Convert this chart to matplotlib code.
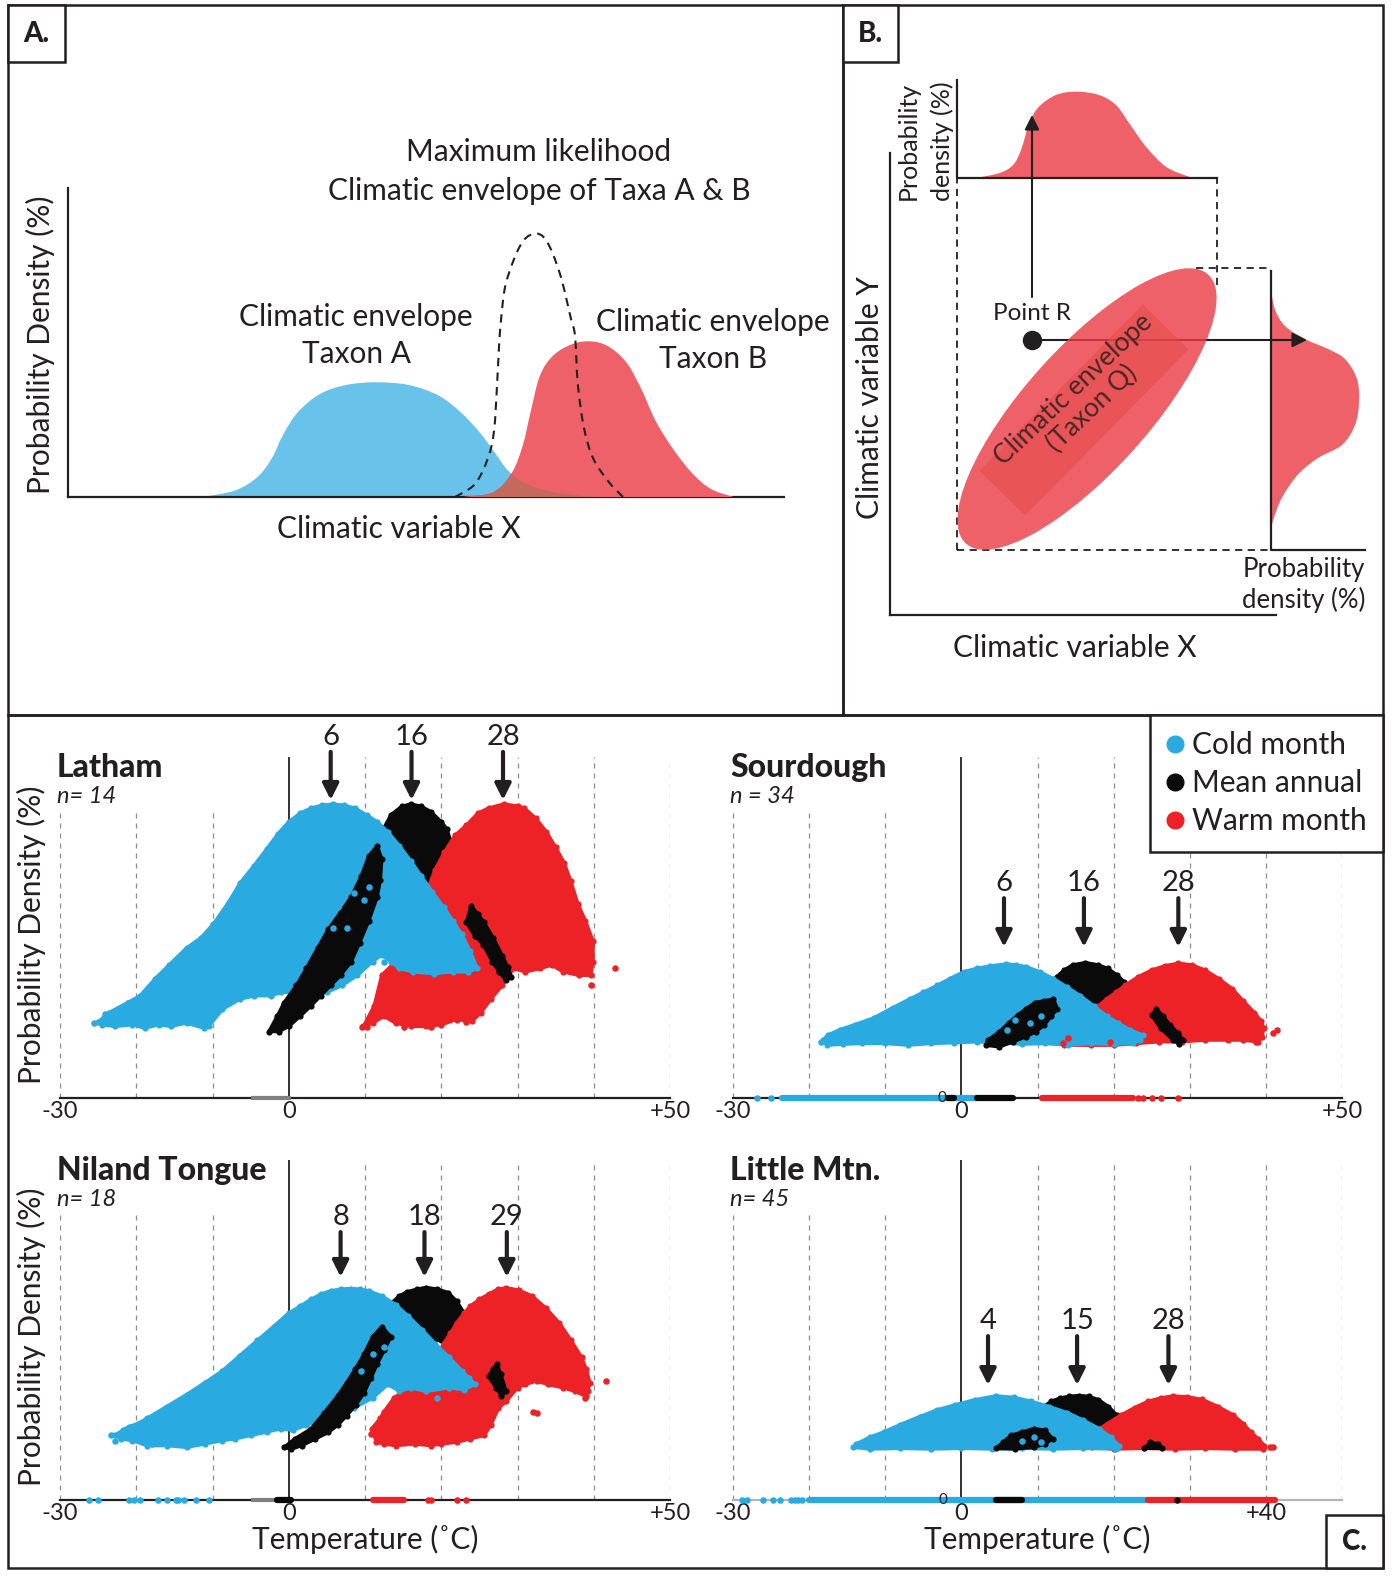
import matplotlib
matplotlib.use('Agg')
import matplotlib.pyplot as plt
from matplotlib.patches import Rectangle, Ellipse, PathPatch
from matplotlib.path import Path
from matplotlib.lines import Line2D

plt.rcParams['font.family'] = ['Lato', 'DejaVu Sans']

W, H = 1398, 1579
INK = '#231f20'
COLD = '#29abe2'
MEAN = '#0a0a0a'
WARM = '#ec2227'
A_BLUE = '#69c2ea'
A_RED = '#ef6168'
A_MIX = '#c4695b'
B_RED = '#ec3a44'

# ---------------- Panel A (schematic, axis units) ----------------
taxon_a_x = [134, 167, 189.5, 204, 215, 230, 252, 278, 307.6, 340.8, 370.3, 392.4, 411, 425.7, 440.4, 459, 484.7, 518, 536]
taxon_a_y = [0, 6.5, 20, 39, 62, 85, 103, 112, 114.7, 112, 101.6, 85, 65.5, 46, 26, 13, 5, 0.6, 0]
taxon_b_x = [396, 425.6, 444, 455, 462.6, 471.8, 484.7, 503, 521.6, 540, 558.5, 573.3, 588, 606.5, 625, 643, 665.5]
taxon_b_y = [0, 5, 24.5, 52.4, 85, 121, 141, 152.4, 155.7, 150.8, 134.4, 108, 75.4, 46, 23, 8, 0]
ml_x = [387, 407, 420, 426, 429, 431, 433, 438, 452, 465, 478, 492, 503, 507, 510, 516, 525, 540, 555]
ml_y = [0, 13, 39, 66, 111, 150, 177, 214, 251, 263, 257, 223, 178, 161, 111, 69, 39, 16, 0]

# ---------------- Panel B (schematic, axis units) ----------------
marg_x_x = [86, 109.5, 123, 131, 139.4, 149, 166, 186, 209, 226, 239, 256, 276, 299, 309]
marg_x_y = [437, 442, 450, 465, 492, 508.3, 520, 523.3, 520, 510, 492, 468.3, 448.3, 438.3, 437]
marg_y_x = [381, 385, 395, 415, 438, 455, 467, 469, 465, 452, 428, 408, 392, 383, 381]
marg_y_y = [325, 305.5, 289, 276, 266, 256, 236, 213, 190, 170, 157, 140.5, 117.4, 94.3, 81]
point_r = (142, 275)

# ---------------- Panel C (temperature degC, relative density) ----------------
latham_mean_head = [(11.5, 0.70), (12.2, 0.78), (13.4, 0.83), (14.8, 0.855), (16, 0.862), (17.4, 0.855),
                    (18.6, 0.84), (20.0, 0.81), (20.7, 0.79), (21.3, 0.75), (21.5, 0.70), (21.0, 0.64),
                    (19.5, 0.62), (17, 0.62), (14, 0.62), (12, 0.63)]
latham_warm = [(18.0, 0.60), (19.2, 0.67), (20.4, 0.72), (21.8, 0.77), (23.3, 0.80), (24.8, 0.835), (26.2, 0.85),
               (28.2, 0.862), (30.0, 0.856), (30.9, 0.85), (32.4, 0.82), (33.8, 0.78), (35.0, 0.735), (36.1, 0.69),
               (37.0, 0.635), (37.9, 0.57), (38.9, 0.52), (39.9, 0.46), (39.9, 0.40), (39.6, 0.36), (38, 0.36),
               (36, 0.37), (34.5, 0.39), (33, 0.38), (31, 0.37), (29.5, 0.38), (28, 0.33), (26.5, 0.29),
               (25.2, 0.25), (24, 0.225), (22, 0.23), (20, 0.215), (18, 0.21), (16, 0.21), (14, 0.22),
               (12.5, 0.24), (11, 0.22), (9.8, 0.21), (11.2, 0.27), (12.2, 0.36), (14, 0.40), (16, 0.45), (17.2, 0.52)]
latham_mean_tail = [(23.3, 0.515), (23.9, 0.563), (24.8, 0.54), (25.6, 0.515), (26.8, 0.47), (28, 0.417),
                    (28.7, 0.385), (29.2, 0.355), (28.5, 0.345), (27.6, 0.37), (26.7, 0.40), (25.5, 0.45), (24.4, 0.476)]
latham_cold = [(-25.0, 0.223), (-23.6, 0.25), (-21.1, 0.28), (-19.5, 0.30), (-17.5, 0.35), (-15.7, 0.39),
               (-13.4, 0.44), (-11.5, 0.47), (-9.9, 0.51), (-8.0, 0.57), (-6.4, 0.63), (-4.6, 0.68), (-2.9, 0.73),
               (-1.4, 0.775), (0.0, 0.81), (1.5, 0.835), (2.9, 0.85), (4.3, 0.858), (5.8, 0.862), (7.3, 0.858),
               (8.7, 0.85), (10.2, 0.83), (11.6, 0.81), (13.0, 0.78), (14.5, 0.74), (16.0, 0.695), (17.4, 0.65),
               (18.8, 0.605), (20.3, 0.56), (21.5, 0.52), (22.7, 0.48), (23.8, 0.43), (24.7, 0.38), (23.5, 0.37),
               (21.5, 0.37), (19, 0.365), (16.3, 0.37), (14.5, 0.38), (13.4, 0.40), (12.2, 0.42), (11, 0.40),
               (9, 0.36), (7, 0.33), (5, 0.31), (3, 0.30), (1, 0.31), (-1, 0.31), (-2.3, 0.30), (-4.5, 0.30),
               (-6.4, 0.29), (-8.7, 0.26), (-10.5, 0.21), (-11.1, 0.205), (-13.4, 0.22), (-15.5, 0.21),
               (-17, 0.215), (-18.9, 0.205), (-20.5, 0.215), (-22.8, 0.21), (-24.5, 0.215)]
latham_mean_band = [(-2.6, 0.195), (-1.5, 0.24), (-0.6, 0.28), (1.0, 0.33), (2.3, 0.38), (3.8, 0.44), (5.2, 0.495),
                    (6.8, 0.545), (8.2, 0.59), (9.5, 0.65), (10.5, 0.71), (11.6, 0.74), (12.2, 0.70), (12.0, 0.64),
                    (11.6, 0.59), (10.5, 0.52), (9.3, 0.456), (8.2, 0.40), (6.8, 0.36), (5.5, 0.33), (4.2, 0.30),
                    (2.9, 0.27), (1.5, 0.24), (0.0, 0.21), (-1.3, 0.195)]
latham_cold_dots = [(-25.5, 0.22), (-24.1, 0.245), (-22.8, 0.214), (-21.1, 0.28), (-19.5, 0.233), (-18.9, 0.21),
                    (-17.2, 0.354), (-16.0, 0.31), (-13.4, 0.223), (-11.1, 0.209), (-10.5, 0.262), (-8.7, 0.28),
                    (-6.4, 0.30), (-2.3, 0.31), (5.8, 0.50), (6.4, 0.56), (7.6, 0.50), (8.5, 0.60), (9.9, 0.58),
                    (10.5, 0.62), (12.5, 0.40), (14.5, 0.43)]
latham_warm_dots = [(9.6, 0.209), (10.2, 0.209), (15.1, 0.209), (18.6, 0.209), (23.3, 0.223), (25.0, 0.252),
                    (21.5, 0.262), (11.6, 0.238), (42.8, 0.38), (39.6, 0.33)]

sourdough_mean_head = [(11.5, 0.33), (12.5, 0.355), (13.5, 0.375), (14.6, 0.39), (16.3, 0.397), (18.0, 0.39),
                       (19.2, 0.38), (20.5, 0.36), (21.4, 0.34), (22.0, 0.32), (21.6, 0.29), (19.0, 0.28),
                       (15.0, 0.28), (12.0, 0.30)]
sourdough_warm = [(13.5, 0.155), (14.3, 0.19), (15.5, 0.225), (17.0, 0.25), (18.0, 0.27), (19.1, 0.29), (20.3, 0.31),
                  (21.5, 0.33), (23.2, 0.355), (25.0, 0.375), (26.8, 0.388), (28.5, 0.395), (30.3, 0.39),
                  (32.0, 0.375), (33.8, 0.35), (35.6, 0.32), (37.0, 0.285), (38.5, 0.25), (39.4, 0.225),
                  (39.7, 0.205), (39.5, 0.18), (38.9, 0.165), (37.0, 0.17), (35.0, 0.17), (32.0, 0.17),
                  (29.0, 0.165), (26.0, 0.165), (23.0, 0.16), (20.0, 0.155), (17.0, 0.155)]
sourdough_mean_tail = [(25.0, 0.243), (25.6, 0.262), (26.5, 0.24), (27.4, 0.214), (28.5, 0.19), (29.1, 0.17),
                       (28.6, 0.158), (27.8, 0.17), (26.2, 0.204)]
sourdough_cold = [(-18.2, 0.17), (-17.5, 0.185), (-16.0, 0.20), (-14.0, 0.215), (-11.5, 0.235), (-9.0, 0.265),
                  (-6.8, 0.29), (-5.0, 0.31), (-3.2, 0.33), (-1.5, 0.35), (0.3, 0.37), (2.0, 0.38), (3.8, 0.387),
                  (5.9, 0.393), (7.2, 0.39), (8.5, 0.385), (10.3, 0.37), (12.1, 0.35), (13.9, 0.325), (15.6, 0.30),
                  (17.4, 0.27), (19.1, 0.24), (20.6, 0.22), (22.1, 0.20), (23.8, 0.185), (23.5, 0.17), (22.6, 0.16),
                  (20.0, 0.158), (17.0, 0.16), (14.0, 0.155), (11.0, 0.16), (8.0, 0.158), (5.0, 0.162),
                  (2.0, 0.165), (-1.0, 0.162), (-4.0, 0.16), (-7.0, 0.155), (-10.0, 0.16), (-13.0, 0.16),
                  (-15.5, 0.158), (-17.6, 0.155)]
sourdough_mean_band = [(3.2, 0.155), (5.0, 0.15), (6.8, 0.165), (8.5, 0.18), (9.8, 0.195), (10.9, 0.214),
                       (11.8, 0.24), (12.6, 0.262), (12.1, 0.29), (10.9, 0.285), (9.7, 0.28), (8.5, 0.262),
                       (7.4, 0.243), (6.2, 0.22), (5.0, 0.194), (3.5, 0.17)]
sourdough_cold_dots = [(6.0, 0.2), (7.0, 0.23), (9.0, 0.22), (10.4, 0.24), (-18.5, 0.165), (-17.3, 0.17),
                       (12.8, 0.19), (14.9, 0.17), (19.6, 0.17)]
sourdough_warm_dots = [(41.5, 0.20), (40.9, 0.19), (38.7, 0.165), (13.3, 0.16), (14.0, 0.175), (19.5, 0.165)]

niland_mean_head = [(11.5, 0.50), (12.5, 0.55), (13.5, 0.58), (14.5, 0.60), (15.5, 0.612), (16.8, 0.62),
                    (18.0, 0.625), (19.5, 0.62), (20.9, 0.61), (22.0, 0.585), (23.0, 0.55), (22.6, 0.50),
                    (20.0, 0.47), (15.0, 0.47), (12.5, 0.47)]
niland_warm = [(10.9, 0.21), (12.0, 0.24), (12.5, 0.26), (13.8, 0.30), (15.0, 0.32), (16.5, 0.34), (17.5, 0.36),
               (19.0, 0.40), (20.3, 0.46), (21.2, 0.49), (22.0, 0.52), (23.0, 0.55), (23.8, 0.57), (25.0, 0.59),
               (26.2, 0.605), (27.4, 0.62), (28.5, 0.624), (30.2, 0.617), (31.9, 0.60), (33.7, 0.565),
               (35.5, 0.52), (37.0, 0.47), (38.4, 0.42), (39.0, 0.385), (39.5, 0.345), (39.2, 0.32), (39.0, 0.305),
               (37.5, 0.32), (36.0, 0.33), (34.0, 0.34), (32.5, 0.35), (31.0, 0.34), (30.0, 0.33), (28.5, 0.29),
               (27.5, 0.27), (26.5, 0.22), (25.6, 0.19), (23.8, 0.18), (22.0, 0.17), (20.0, 0.165), (18.6, 0.16),
               (16.5, 0.165), (14.0, 0.16), (12.5, 0.165), (11.5, 0.17)]
niland_mean_tail = [(26.2, 0.364), (26.8, 0.385), (27.3, 0.40), (27.8, 0.37), (28.5, 0.32), (27.9, 0.306),
                    (27.2, 0.33)]
niland_cold = [(-22.8, 0.19), (-21.8, 0.205), (-21.0, 0.215), (-19.8, 0.225), (-18.6, 0.24), (-16.0, 0.275),
               (-13.4, 0.31), (-11.0, 0.345), (-8.7, 0.38), (-6.4, 0.425), (-4.1, 0.47), (-2.0, 0.51), (0.0, 0.55),
               (1.5, 0.57), (2.9, 0.59), (4.2, 0.605), (5.5, 0.615), (6.8, 0.62), (8.1, 0.622), (9.4, 0.62),
               (10.5, 0.615), (12.2, 0.60), (14.0, 0.575), (15.7, 0.54), (17.5, 0.50), (19.2, 0.46), (21.0, 0.42),
               (22.7, 0.38), (23.6, 0.36), (24.4, 0.34), (23.0, 0.325), (21.0, 0.33), (18.0, 0.32), (16.0, 0.33),
               (14.5, 0.32), (13.0, 0.34), (11.0, 0.30), (8.5, 0.27), (6.0, 0.25), (4.0, 0.235), (2.3, 0.22),
               (0.5, 0.205), (-1.0, 0.21), (-2.9, 0.20), (-5.0, 0.19), (-7.0, 0.18), (-8.7, 0.175), (-11.0, 0.165),
               (-13.4, 0.155), (-16.0, 0.16), (-18.6, 0.16), (-20.5, 0.175), (-22.0, 0.18)]
niland_mean_band = [(-0.6, 0.155), (0.8, 0.18), (2.9, 0.209), (4.6, 0.255), (6.4, 0.306), (7.6, 0.345),
                    (8.7, 0.384), (9.9, 0.43), (11.0, 0.48), (12.2, 0.51), (13.4, 0.48), (12.5, 0.44), (11.6, 0.40),
                    (10.8, 0.36), (9.9, 0.316), (8.8, 0.28), (7.6, 0.248), (6.4, 0.22), (5.2, 0.199), (3.5, 0.18),
                    (1.7, 0.16), (0.3, 0.15)]
niland_cold_dots = [(-23.3, 0.19), (-22.8, 0.175), (-21.3, 0.185), (-20.2, 0.195), (-18.0, 0.165), (-14.8, 0.17),
                    (8.0, 0.42), (9.5, 0.38), (11.0, 0.43), (12.5, 0.45), (11.6, 0.36), (19.5, 0.30)]
niland_warm_dots = [(41.6, 0.35), (32.0, 0.26), (32.6, 0.255), (10.8, 0.195), (11.5, 0.19), (38.9, 0.30)]

little_mean_head = [(10.5, 0.27), (11.8, 0.29), (13.0, 0.30), (14.2, 0.305), (15.4, 0.307), (16.7, 0.305),
                    (18.0, 0.295), (19.3, 0.275), (20.4, 0.25), (20.2, 0.21), (18.0, 0.20), (15.0, 0.20), (11.0, 0.22)]
little_warm = [(17.2, 0.155), (17.3, 0.18), (17.5, 0.20), (19.2, 0.225), (21.0, 0.25), (22.8, 0.272), (24.5, 0.29),
               (26.2, 0.30), (27.8, 0.306), (29.7, 0.303), (31.6, 0.296), (33.7, 0.275), (35.7, 0.25),
               (37.0, 0.225), (38.0, 0.20), (39.0, 0.18), (39.8, 0.16), (39.6, 0.15), (36.0, 0.15), (32.0, 0.152),
               (28.0, 0.15), (24.0, 0.152), (20.0, 0.15)]
little_mean_tail = [(24.0, 0.152), (24.8, 0.17), (25.8, 0.165), (26.3, 0.152)]
little_cold = [(-14.2, 0.155), (-13.8, 0.165), (-12.0, 0.185), (-10.2, 0.20), (-8.0, 0.222), (-5.5, 0.245),
               (-3.2, 0.265), (-0.8, 0.28), (1.8, 0.295), (4.5, 0.306), (6.9, 0.302), (9.2, 0.29), (11.5, 0.275),
               (13.9, 0.257), (16.0, 0.235), (18.1, 0.21), (19.6, 0.185), (20.7, 0.16), (20.3, 0.15), (16.0, 0.152),
               (12.0, 0.15), (8.0, 0.152), (4.0, 0.15), (0.0, 0.152), (-4.0, 0.15), (-8.0, 0.152), (-12.0, 0.15)]
little_mean_band = [(4.5, 0.152), (5.5, 0.17), (6.5, 0.19), (8.0, 0.20), (9.5, 0.21), (11.0, 0.205), (12.0, 0.18),
                    (11.0, 0.165), (9.5, 0.155), (7.0, 0.15)]
little_cold_dots = [(8.0, 0.175), (9.5, 0.185), (10.5, 0.17)]
little_warm_dots = [(40.5, 0.155), (41.0, 0.155)]

# rug values along the temperature axis (degC)
sourdough_rug = {'cold_runs': [(-23.5, 2.0)], 'cold_dots': [-26.8, -25.0],
                 'mean_runs': [(-1.8, -1.0), (2.1, 6.8)], 'mean_dots': [],
                 'warm_runs': [(10.6, 22.6)], 'warm_dots': [23.2, 23.8, 25.0, 26.2, 28.5], 'grey_runs': []}
niland_rug = {'cold_runs': [], 'cold_dots': [-26.2, -25.0, -20.9, -20.3, -19.5, -17.2, -16.0, -14.8, -14.5, -13.7, -12.2, -10.5],
              'mean_runs': [(-1.5, 0.3)], 'mean_dots': [],
              'warm_runs': [(11.0, 15.1)], 'warm_dots': [18.3, 18.6, 22.1, 23.3], 'grey_runs': [(-4.7, -1.5)]}
latham_rug = {'cold_runs': [], 'cold_dots': [], 'mean_runs': [], 'mean_dots': [],
              'warm_runs': [], 'warm_dots': [], 'grey_runs': [(-4.7, 0.0)]}
little_rug = {'cold_runs': [(-20.0, 24.5)], 'cold_dots': [-28.8, -28.2, -26.1, -24.7, -23.8, -22.4, -21.9, -21.4, -20.9],
              'mean_runs': [(4.5, 8.0)], 'mean_dots': [28.3],
              'warm_runs': [(24.5, 41.2)], 'warm_dots': [], 'grey_runs': []}

# modal values marked by arrows
latham_modes = ['6', '16', '28']
latham_mode_x = [5.5, 16.1, 28.1]
sourdough_modes = ['6', '16', '28']
sourdough_mode_x = [5.6, 16.1, 28.5]
niland_modes = ['8', '18', '29']
niland_mode_x = [6.8, 17.8, 28.6]
little_modes = ['4', '15', '28']
little_mode_x = [3.5, 15.2, 27.2]

legend_labels = ['Cold month', 'Mean annual', 'Warm month']


def px_axes(fig, left, top, right, bottom, **kw):
    return fig.add_axes([left / W, 1 - bottom / H, (right - left) / W, (bottom - top) / H], **kw)


def smooth_path(xs, ys, close=False):
    # Catmull-Rom through the read points, drawn as cubic Bezier segments
    pts = list(zip(xs, ys))
    n = len(pts)
    verts = [pts[0]]
    codes = [Path.MOVETO]
    for i in range(n - 1):
        p0 = pts[i - 1] if i > 0 else pts[i]
        p1 = pts[i]
        p2 = pts[i + 1]
        p3 = pts[i + 2] if i + 2 < n else pts[i + 1]
        c1 = (p1[0] + (p2[0] - p0[0]) / 6, p1[1] + (p2[1] - p0[1]) / 6)
        c2 = (p2[0] - (p3[0] - p1[0]) / 6, p2[1] - (p3[1] - p1[1]) / 6)
        verts += [c1, c2, p2]
        codes += [Path.CURVE4] * 3
    if close:
        verts.append(pts[0])
        codes.append(Path.CLOSEPOLY)
    return Path(verts, codes)


def blob(ax, pts, color, z):
    xs = [p[0] for p in pts]
    ys = [p[1] for p in pts]
    ax.fill(xs, ys, fc=color, ec=color, lw=2.5, joinstyle='round', zorder=z)
    ax.scatter(xs, ys, s=20, color=color, lw=0, zorder=z)


def dots(ax, pts, color, z):
    ax.scatter([p[0] for p in pts], [p[1] for p in pts], s=22, color=color, lw=0, zorder=z)


def draw_rug(ax, rug):
    for a, b in rug['grey_runs']:
        ax.plot([a, b], [0, 0], color='#808080', lw=3, zorder=6, clip_on=False)
    for key, col in [('cold', COLD), ('mean', MEAN), ('warm', WARM)]:
        for a, b in rug[key + '_runs']:
            ax.plot([a, b], [0, 0], color=col, lw=4.5, solid_capstyle='round', zorder=6, clip_on=False)
        if rug[key + '_dots']:
            ax.scatter(rug[key + '_dots'], [0] * len(rug[key + '_dots']), s=22, color=col, lw=0,
                       zorder=7, clip_on=False)


def draw_site(ax, title, ntext, layers, modes, mode_x, arrow_y, rug, ticks, ticklabels,
              ylabel=False, xlabel=False, base_color=INK, zero_label=None):
    ax.set_xlim(-30, 50)
    ax.set_ylim(0, 1)
    ax.patch.set_alpha(0)
    for s in ['top', 'right', 'left']:
        ax.spines[s].set_visible(False)
    ax.spines['bottom'].set_color(base_color)
    ax.spines['bottom'].set_linewidth(1.6)
    ax.set_yticks([])
    ax.set_xticks(ticks, ticklabels)
    ax.tick_params(axis='x', length=0, pad=2, labelsize=17, labelcolor=INK)
    for g in range(-30, 51, 10):
        if g == 0:
            ax.plot([0, 0], [0, 1], color=INK, lw=1.3, zorder=1)
        else:
            top = 0.85 if g < 0 else 1.0
            ax.plot([g, g], [0, top], color='#8c8c8c', lw=0.9, ls=(0, (4, 4)), zorder=1)
    for i, (kind, pts, col) in enumerate(layers):
        if kind == 'blob':
            blob(ax, pts, col, 2 + i * 0.1)
        else:
            dots(ax, pts, col, 2 + i * 0.1)
    tip, tail, lab_y = arrow_y
    for lab, x in zip(modes, mode_x):
        ax.annotate('', xy=(x, tip), xytext=(x, tail), annotation_clip=False,
                    arrowprops=dict(arrowstyle='-|>', lw=3, color=INK, mutation_scale=24,
                                    shrinkA=0, shrinkB=0))
        ax.text(x, lab_y, lab, ha='center', va='center', fontsize=21, color=INK, clip_on=False)
    draw_rug(ax, rug)
    ax.text(-30.4, 0.97, title, ha='left', va='center', fontsize=23, fontweight='black', color=INK)
    ax.text(-30.4, 0.885, ntext, ha='left', va='center', fontsize=17, style='italic', color=INK)
    if zero_label is not None:
        ax.text(zero_label, 0.0, '0', ha='center', va='center', fontsize=11, color=INK, zorder=8)
    if ylabel:
        ax.text(-33.7, 0.48, 'Probability Density (%)', rotation=90, ha='center', va='center',
                fontsize=21.5, color=INK, clip_on=False)
    if xlabel:
        ax.set_xlabel('Temperature (˚C)', fontsize=21.5, color=INK, labelpad=1)


fig = plt.figure(figsize=(W / 100, H / 100), dpi=100)
fig.patch.set_facecolor('white')

# frames and panel letters
fr = fig.add_axes([0, 0, 1, 1], zorder=0)
fr.set_xlim(0, W)
fr.set_ylim(H, 0)
fr.axis('off')
for x0, y0, x1, y1 in [(8, 5, 843, 715), (843, 5, 1383, 715), (8, 715, 1383, 1568)]:
    fr.add_patch(Rectangle((x0, y0), x1 - x0, y1 - y0, fill=False, lw=1.8, ec=INK))
for lab, (x0, y0, x1, y1) in [('A.', (8, 5, 65, 62)), ('B.', (843, 5, 898, 62)), ('C.', (1326, 1515, 1383, 1568))]:
    fr.add_patch(Rectangle((x0, y0), x1 - x0, y1 - y0, fc='white', lw=1.8, ec=INK))
    fr.text((x0 + x1) / 2, (y0 + y1) / 2 + 1, lab, ha='center', va='center', fontsize=20,
            fontweight='black', color=INK)

# ---- Panel A ----
ax_a = px_axes(fig, 68, 188, 784, 497, zorder=1)
ax_a.set_xlim(0, 716)
ax_a.set_ylim(0, 309)
ax_a.patch.set_alpha(0)
for s in ['top', 'right']:
    ax_a.spines[s].set_visible(False)
for s in ['left', 'bottom']:
    ax_a.spines[s].set_linewidth(1.6)
    ax_a.spines[s].set_color(INK)
ax_a.set_xticks([])
ax_a.set_yticks([])
blue_patch = PathPatch(smooth_path(taxon_a_x, taxon_a_y, close=True), fc=A_BLUE, ec='none', zorder=2)
red_patch = PathPatch(smooth_path(taxon_b_x, taxon_b_y, close=True), fc=A_RED, ec='none', zorder=3)
ax_a.add_patch(blue_patch)
ax_a.add_patch(red_patch)
mix_patch = PathPatch(smooth_path(taxon_a_x, taxon_a_y, close=True), fc=A_MIX, ec='none', zorder=4)
ax_a.add_patch(mix_patch)
mix_patch.set_clip_path(red_patch)
ax_a.add_patch(PathPatch(smooth_path(ml_x, ml_y), fill=False, ec=INK, lw=1.5, ls=(0, (4, 3)), zorder=5))
ax_a.text(471, 345, 'Maximum likelihood', ha='center', va='center', fontsize=21.5, color=INK, clip_on=False)
ax_a.text(471, 306, 'Climatic envelope of Taxa A & B', ha='center', va='center', fontsize=21.5, color=INK,
          clip_on=False)
ax_a.text(288, 180, 'Climatic envelope', ha='center', va='center', fontsize=21.5, color=INK)
ax_a.text(288, 143, 'Taxon A', ha='center', va='center', fontsize=21.5, color=INK)
ax_a.text(645, 175, 'Climatic envelope', ha='center', va='center', fontsize=21.5, color=INK, clip_on=False)
ax_a.text(645, 138, 'Taxon B', ha='center', va='center', fontsize=21.5, color=INK)
ax_a.text(331, -32, 'Climatic variable X', ha='center', va='center', fontsize=21.5, color=INK, clip_on=False)
ax_a.text(-28, 152, 'Probability Density (%)', rotation=90, ha='center', va='center', fontsize=21.5,
          color=INK, clip_on=False)

# ---- Panel B ----
ax_b = px_axes(fig, 890, 153, 1276, 615, zorder=1)
ax_b.set_xlim(0, 386)
ax_b.set_ylim(0, 462)
ax_b.patch.set_alpha(0)
for s in ['top', 'right']:
    ax_b.spines[s].set_visible(False)
for s in ['left', 'bottom']:
    ax_b.spines[s].set_linewidth(1.6)
    ax_b.spines[s].set_color(INK)
ax_b.set_xticks([])
ax_b.set_yticks([])
dash = (0, (4, 3))
ax_b.plot([67, 67], [65, 437], color=INK, lw=1.3, ls=dash, clip_on=False)
ax_b.plot([67, 381], [65, 65], color=INK, lw=1.3, ls=dash, clip_on=False)
ax_b.plot([327, 327], [330, 437], color=INK, lw=1.3, ls=dash, clip_on=False)
ax_b.plot([306, 381], [347, 347], color=INK, lw=1.3, ls=dash, clip_on=False)
# marginal densities
ax_b.add_patch(PathPatch(smooth_path(marg_x_x, marg_x_y, close=True), fc='#ef6169', ec='none',
                         clip_on=False, zorder=1))
ax_b.add_patch(PathPatch(smooth_path(marg_y_x, marg_y_y, close=True), fc='#ef6169', ec='none',
                         clip_on=False, zorder=1))
# arrows from point R (under the envelope, which is slightly transparent)
ax_b.annotate('', xy=(point_r[0], 500), xytext=(point_r[0], 318), annotation_clip=False,
              arrowprops=dict(arrowstyle='-|>', lw=1.5, color=INK, mutation_scale=22, shrinkA=0, shrinkB=0),
              zorder=1.5)
ax_b.annotate('', xy=(417, point_r[1]), xytext=point_r, annotation_clip=False,
              arrowprops=dict(arrowstyle='-|>', lw=1.5, color=INK, mutation_scale=22, shrinkA=0, shrinkB=0),
              zorder=1.5)
env = Ellipse((197, 206), 362, 124, angle=48, fc=B_RED, alpha=0.8, ec='none', zorder=2)
ax_b.add_patch(env)
core = Rectangle((194 - 116.5, 205 - 32), 233, 64, angle=45.5, rotation_point='center',
                 fc='#e54a47', alpha=0.55, ec='none', zorder=3)
ax_b.add_patch(core)
core.set_clip_path(env)
ax_b.text(193, 216, 'Climatic envelope\n(Taxon Q)', rotation=43.5, ha='center', va='center', fontsize=19,
          color='#4a2626', linespacing=1.05, zorder=4, rotation_mode='anchor')
ax_b.plot([67, 67, 327], [535, 437, 437], color=INK, lw=1.6, clip_on=False, zorder=3)
ax_b.plot([381, 381, 475], [344, 65, 65], color=INK, lw=1.6, clip_on=False, zorder=3)
ax_b.plot([point_r[0]], [point_r[1]], 'o', color=INK, markersize=13, zorder=6)
ax_b.text(point_r[0], 302, 'Point R', ha='center', va='center', fontsize=17.5, color=INK)
ax_b.text(18, 474, 'Probability', rotation=90, ha='center', va='center', fontsize=18, color=INK, clip_on=False)
ax_b.text(52, 474, 'density (%)', rotation=90, ha='center', va='center', fontsize=18, color=INK, clip_on=False)
ax_b.text(414, 46, 'Probability', ha='center', va='center', fontsize=18.5, color=INK, clip_on=False)
ax_b.text(414, 15, 'density (%)', ha='center', va='center', fontsize=18.5, color=INK, clip_on=False)
ax_b.text(-20, 217, 'Climatic variable Y', rotation=90, ha='center', va='center', fontsize=21.5, color=INK,
          clip_on=False)
ax_b.text(185, -33, 'Climatic variable X', ha='center', va='center', fontsize=21.5, color=INK, clip_on=False)

# ---- Panel C ----
ax_lat = px_axes(fig, 60, 757, 670, 1098, zorder=1)
draw_site(ax_lat, 'Latham', 'n= 14',
          [('blob', latham_mean_head, MEAN), ('blob', latham_warm, WARM), ('blob', latham_mean_tail, MEAN),
           ('blob', latham_cold, COLD), ('blob', latham_mean_band, MEAN), ('dots', latham_cold_dots, COLD),
           ('dots', latham_warm_dots, WARM)],
          latham_modes, latham_mode_x, (0.874, 1.015, 1.06), latham_rug,
          [-30, 0, 50], ['-30', '0', '+50'], ylabel=True)

ax_sou = px_axes(fig, 733, 757, 1342, 1098, zorder=1)
draw_site(ax_sou, 'Sourdough', 'n = 34',
          [('blob', sourdough_mean_head, MEAN), ('blob', sourdough_warm, WARM), ('blob', sourdough_mean_tail, MEAN),
           ('blob', sourdough_cold, COLD), ('blob', sourdough_mean_band, MEAN), ('dots', sourdough_cold_dots, COLD),
           ('dots', sourdough_warm_dots, WARM)],
          sourdough_modes, sourdough_mode_x, (0.443, 0.586, 0.63), sourdough_rug,
          [-30, 0, 50], ['-30', '0', '+50'], zero_label=-2.6)

ax_nil = px_axes(fig, 60, 1160, 670, 1500, zorder=1)
draw_site(ax_nil, 'Niland Tongue', 'n= 18',
          [('blob', niland_mean_head, MEAN), ('blob', niland_warm, WARM), ('blob', niland_mean_tail, MEAN),
           ('blob', niland_cold, COLD), ('blob', niland_mean_band, MEAN), ('dots', niland_cold_dots, COLD),
           ('dots', niland_warm_dots, WARM)],
          niland_modes, niland_mode_x, (0.656, 0.788, 0.832), niland_rug,
          [-30, 0, 50], ['-30', '0', '+50'], ylabel=True, xlabel=True)

ax_lit = px_axes(fig, 733, 1160, 1342, 1500, zorder=1)
draw_site(ax_lit, 'Little Mtn.', 'n= 45',
          [('blob', little_mean_head, MEAN), ('blob', little_warm, WARM), ('blob', little_mean_tail, MEAN),
           ('blob', little_cold, COLD), ('blob', little_mean_band, MEAN), ('dots', little_cold_dots, COLD),
           ('dots', little_warm_dots, WARM)],
          little_modes, little_mode_x, (0.338, 0.482, 0.526), little_rug,
          [-30, 0, 40], ['-30', '0', '+40'], xlabel=True, base_color='#b5b5b5', zero_label=-2.4)

handles = [Line2D([], [], marker='o', ls='', color=c, markersize=12) for c in (COLD, MEAN, WARM)]
leg = fig.legend(handles, legend_labels, loc='upper right', bbox_to_anchor=(1383 / W, 1 - 715 / H),
                 fontsize=21.5, frameon=True, fancybox=False, handletextpad=0.25, labelspacing=0.33,
                 borderpad=0.55, handlelength=0.6, borderaxespad=0)
leg.get_frame().set_edgecolor(INK)
leg.get_frame().set_linewidth(1.8)
leg.get_frame().set_facecolor('white')
leg.get_frame().set_alpha(1)
for t in leg.get_texts():
    t.set_color(INK)

fig.savefig('out.png', dpi=100, facecolor='white')
